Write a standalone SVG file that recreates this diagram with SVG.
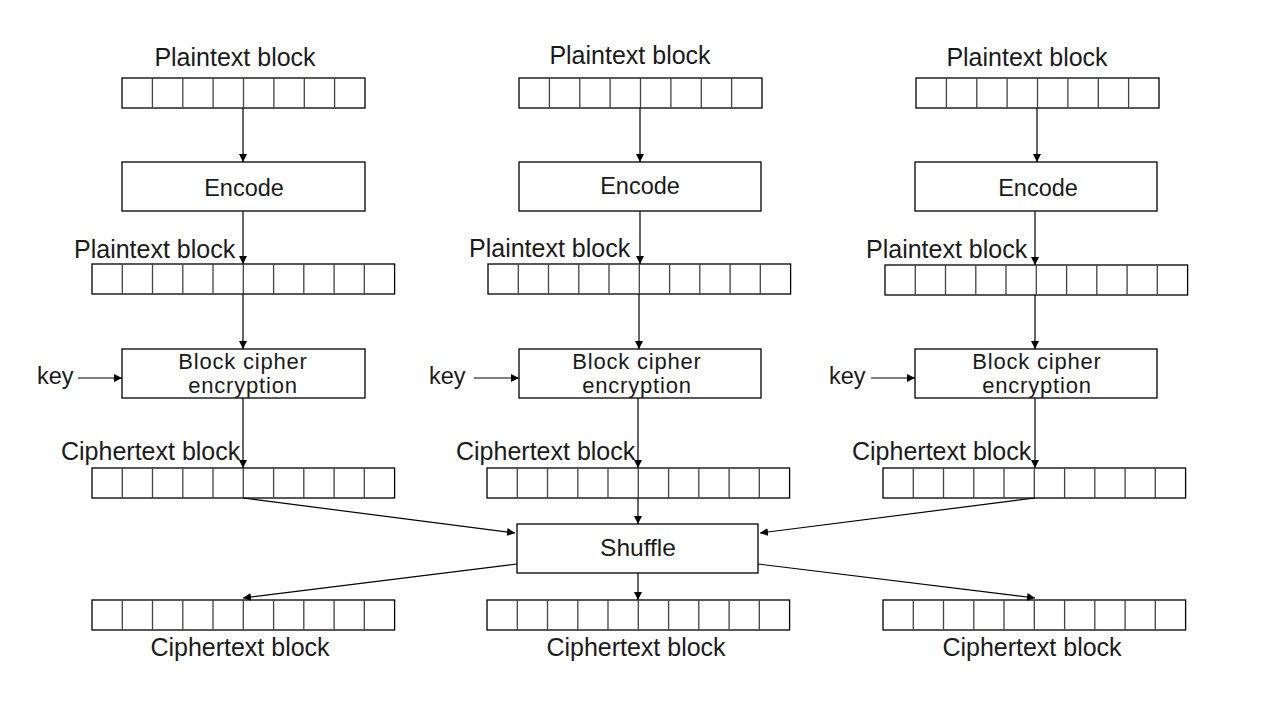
<svg xmlns="http://www.w3.org/2000/svg" xmlns:xlink="http://www.w3.org/1999/xlink" width="1280" height="720" viewBox="0 0 1280 720">
<style>
text{font-family:"Liberation Sans",Arial,sans-serif;font-size:25px;fill:#1a1a1a;}
.c{text-anchor:middle;}
.enc{font-size:23.5px;}
.bc{font-size:22px;letter-spacing:0.8px;}
.sh{font-size:24.5px;}
.box{fill:#fff;stroke:#000;stroke-width:1.3;}
.blk{fill:#fff;stroke:#000;stroke-width:1.3;}
.div{stroke:#444;stroke-width:1.3;}
.cn{stroke:#000;stroke-width:1.2;fill:none;}
.ar{marker-end:url(#ah);}
</style>
<defs>
<marker id="ah" viewBox="0 0 10 10" refX="10" refY="5" markerWidth="8" markerHeight="8" markerUnits="userSpaceOnUse" orient="auto">
<path d="M0,0 L10,5 L0,10 z" fill="#000"/>
</marker>
<g id="cells8">
<rect class="blk" x="0" y="0" width="243" height="30"/>
<path class="div" d="M30.4,0V30M60.8,0V30M91.1,0V30M121.5,0V30M151.9,0V30M182.3,0V30M212.6,0V30"/>
</g>
<g id="cells10">
<rect class="blk" x="0" y="0" width="302.6" height="30"/>
<path class="div" d="M30.3,0V30M60.5,0V30M90.8,0V30M121,0V30M151.3,0V30M181.6,0V30M211.8,0V30M242.1,0V30M272.3,0V30"/>
</g>
</defs>
<rect width="1280" height="720" fill="#fff"/>

<g id="col1-plain-top"><text class="c" x="235" y="66">Plaintext block</text><use xlink:href="#cells8" x="122" y="78"/></g>
<g id="col1-encode"><rect class="box" x="122" y="162" width="243" height="49"/><text class="c enc" x="244" y="196">Encode</text></g>
<g id="col1-plain-mid"><text x="74" y="258">Plaintext block</text><use xlink:href="#cells10" x="92" y="264"/></g>
<g id="col1-key"><text class="enc" x="37" y="384">key</text></g>
<g id="col1-cipher"><rect class="box" x="122" y="349" width="243" height="49"/><text class="c bc" x="243" y="369">Block cipher</text><text class="c bc" x="243" y="393">encryption</text></g>
<g id="col1-ct"><text x="61" y="460">Ciphertext block</text><use xlink:href="#cells10" x="92" y="468"/></g>
<g id="col1-out"><use xlink:href="#cells10" x="92" y="600"/><text class="c" x="240" y="656">Ciphertext block</text></g>

<g id="col2-plain-top"><text class="c" x="630" y="64">Plaintext block</text><use xlink:href="#cells8" x="519" y="78"/></g>
<g id="col2-encode"><rect class="box" x="519" y="162" width="242" height="49"/><text class="c enc" x="640" y="194">Encode</text></g>
<g id="col2-plain-mid"><text x="469" y="257">Plaintext block</text><use xlink:href="#cells10" x="488" y="264"/></g>
<g id="col2-key"><text class="enc" x="429" y="384">key</text></g>
<g id="col2-cipher"><rect class="box" x="519" y="349" width="242" height="49"/><text class="c bc" x="637" y="369">Block cipher</text><text class="c bc" x="637" y="393">encryption</text></g>
<g id="col2-ct"><text x="456" y="460">Ciphertext block</text><use xlink:href="#cells10" x="487" y="468"/></g>
<g id="col2-out"><use xlink:href="#cells10" x="487" y="600"/><text class="c" x="636" y="656">Ciphertext block</text></g>

<g id="col3-plain-top"><text class="c" x="1027" y="66">Plaintext block</text><use xlink:href="#cells8" x="916" y="78"/></g>
<g id="col3-encode"><rect class="box" x="915" y="162" width="242" height="49"/><text class="c enc" x="1038" y="196">Encode</text></g>
<g id="col3-plain-mid"><text x="866" y="258">Plaintext block</text><use xlink:href="#cells10" x="885" y="265"/></g>
<g id="col3-key"><text class="enc" x="829" y="384">key</text></g>
<g id="col3-cipher"><rect class="box" x="915" y="349" width="242" height="49"/><text class="c bc" x="1037" y="369">Block cipher</text><text class="c bc" x="1037" y="393">encryption</text></g>
<g id="col3-ct"><text x="852" y="460">Ciphertext block</text><use xlink:href="#cells10" x="883" y="468"/></g>
<g id="col3-out"><use xlink:href="#cells10" x="883" y="600"/><text class="c" x="1032" y="656">Ciphertext block</text></g>

<g id="shuffle"><rect class="box" x="517" y="524" width="241" height="49"/><text class="c sh" x="638" y="556">Shuffle</text></g>

<g id="connectors">
<path class="cn ar" d="M243,108V162"/>
<path class="cn ar" d="M243,211V264"/>
<path class="cn ar" d="M243,294V349"/>
<path class="cn ar" d="M78,378H122"/>
<path class="cn ar" d="M243,398V468"/>

<path class="cn ar" d="M640,108V162"/>
<path class="cn ar" d="M640,211V264"/>
<path class="cn ar" d="M639,294V349"/>
<path class="cn ar" d="M474,378H519"/>
<path class="cn ar" d="M638,398V468"/>

<path class="cn ar" d="M1037,108V162"/>
<path class="cn ar" d="M1035,211V265"/>
<path class="cn ar" d="M1035,295V349"/>
<path class="cn ar" d="M871,378H915"/>
<path class="cn ar" d="M1035,398V468"/>

<path class="cn ar" d="M243,498L515,533"/>
<path class="cn ar" d="M638,498V524"/>
<path class="cn ar" d="M1035,498L760,533"/>
<path class="cn ar" d="M517,564L243,598"/>
<path class="cn ar" d="M638,573V600"/>
<path class="cn ar" d="M758,564L1035,598"/>
</g>
</svg>
